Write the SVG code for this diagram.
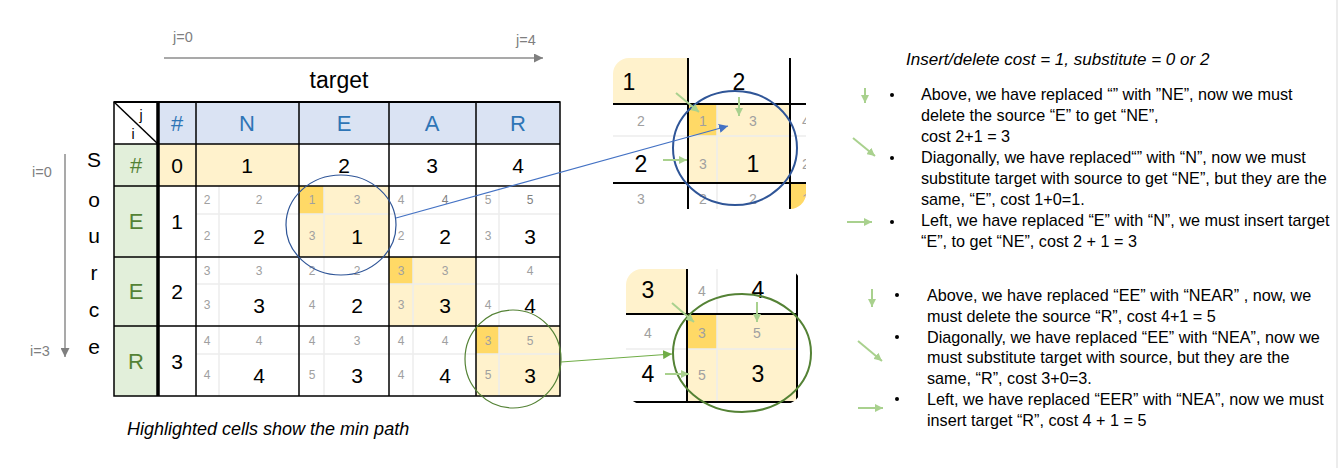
<svg xmlns="http://www.w3.org/2000/svg" width="1338" height="468" viewBox="0 0 1338 468">
<style>
text{font-family:"Liberation Sans",Arial,sans-serif;}
.c{text-anchor:middle;dominant-baseline:central;}
.big{font-size:21px;fill:#000;}
.sm{font-size:12px;fill:#a0a0a0;}
.hdr{font-size:22px;fill:#2e75b6;}
.grn{font-size:22px;fill:#548235;}
.gl{stroke:#000;stroke-width:1.5;fill:none;}
.sub{stroke:#ececec;stroke-width:1.5;}
.lab{font-size:14.5px;fill:#7f7f7f;}
.body{font-size:16.2px;fill:#000;}
.ib{font-size:23px;fill:#000;}
.is{font-size:14px;fill:#a0a0a0;}
.ga{stroke:#a9d18e;stroke-width:2;fill:none;marker-end:url(#ag);}
</style>
<defs>
<marker id="ag" markerUnits="userSpaceOnUse" markerWidth="9" markerHeight="8" refX="8" refY="4" orient="auto"><path d="M0,0 L8,4 L0,8 z" fill="#a9d18e"/></marker>
<marker id="agray" markerUnits="userSpaceOnUse" markerWidth="10" markerHeight="9" refX="9" refY="4.5" orient="auto"><path d="M0,0 L9,4.5 L0,9 z" fill="#7f7f7f"/></marker>
<marker id="ablue" markerUnits="userSpaceOnUse" markerWidth="10" markerHeight="9" refX="9" refY="4.5" orient="auto"><path d="M0,0 L9,4.5 L0,9 z" fill="#4472c4"/></marker>
<marker id="agreen2" markerUnits="userSpaceOnUse" markerWidth="10" markerHeight="9" refX="9" refY="4.5" orient="auto"><path d="M0,0 L9,4.5 L0,9 z" fill="#70ad47"/></marker>
<clipPath id="clipTop"><rect x="613" y="58" width="193" height="151" rx="16"/></clipPath>
<clipPath id="clipBot"><rect x="626" y="269" width="175" height="135" rx="16"/></clipPath>
</defs>
<rect width="1338" height="468" fill="#fff"/>
<line x1="1337" y1="0" x2="1337" y2="468" stroke="#d9d9d9" stroke-width="1"/>

<!-- axis labels -->
<g id="axis-target">
<text x="173" y="42" class="lab">j=0</text>
<text x="516" y="45" class="lab">j=4</text>
<line x1="164" y1="58" x2="543" y2="58" stroke="#8c8c8c" stroke-width="1.5" marker-end="url(#agray)"/>
<text x="339" y="88" font-size="23" text-anchor="middle">target</text>
</g>
<g id="axis-source">
<text x="32" y="177" class="lab">i=0</text>
<text x="30" y="356" class="lab">i=3</text>
<line x1="65" y1="154" x2="65" y2="357" stroke="#8c8c8c" stroke-width="1.5" marker-end="url(#agray)"/>
<g font-size="21" text-anchor="middle">
<text x="94" y="167">S</text>
<text x="94" y="207">o</text>
<text x="94" y="243">u</text>
<text x="94" y="280">r</text>
<text x="94" y="317">c</text>
<text x="94" y="354">e</text>
</g>
</g>

<!-- table -->
<g id="table">
<rect x="158" y="102" width="402" height="42" fill="#dae3f3"/>
<rect x="114" y="144" width="44" height="252" fill="#e2efda"/>
<rect x="158" y="144" width="141" height="42" fill="#fff2cc"/>
<rect x="299" y="186" width="90" height="71" fill="#fff2cc"/>
<rect x="299" y="186" width="25" height="28" fill="#ffd966"/>
<rect x="389" y="257" width="87" height="69" fill="#fff2cc"/>
<rect x="389" y="257" width="24" height="27" fill="#ffd966"/>
<rect x="476" y="326" width="84" height="70" fill="#fff2cc"/>
<rect x="476" y="326" width="23" height="28" fill="#ffd966"/>
<!-- sub grid -->
<g class="sub">
<line x1="196" y1="214" x2="560" y2="214"/>
<line x1="196" y1="284" x2="560" y2="284"/>
<line x1="196" y1="354" x2="560" y2="354"/>
<line x1="219" y1="186" x2="219" y2="396"/>
<line x1="324" y1="186" x2="324" y2="396"/>
<line x1="413" y1="186" x2="413" y2="396"/>
<line x1="499" y1="186" x2="499" y2="396"/>
</g>
<!-- main grid -->
<g class="gl">
<rect x="114" y="102" width="446" height="294"/>
<line x1="114" y1="144" x2="560" y2="144"/>
<line x1="114" y1="186" x2="560" y2="186"/>
<line x1="114" y1="257" x2="560" y2="257"/>
<line x1="114" y1="326" x2="560" y2="326"/>
<line x1="196" y1="102" x2="196" y2="396"/>
<line x1="299" y1="102" x2="299" y2="396"/>
<line x1="389" y1="102" x2="389" y2="396"/>
<line x1="476" y1="102" x2="476" y2="396"/>
<line x1="114" y1="102" x2="158" y2="144"/>
</g>
<line x1="114" y1="102" x2="560" y2="102" stroke="#000" stroke-width="2"/>
<line x1="158" y1="102" x2="158" y2="396" stroke="#000" stroke-width="3.5"/>
<text x="141" y="120" font-size="14" text-anchor="middle">j</text>
<text x="133" y="139" font-size="14" text-anchor="middle">i</text>
<g class="c hdr">
<text x="177" y="123">#</text><text x="247" y="123">N</text><text x="344" y="123">E</text><text x="432" y="123">A</text><text x="518" y="123">R</text>
</g>
<g class="c grn">
<text x="136" y="165">#</text><text x="136" y="221">E</text><text x="136" y="291">E</text><text x="136" y="361">R</text>
</g>
<g class="c big">
<text x="177" y="165">0</text><text x="247" y="165">1</text><text x="344" y="165">2</text><text x="432" y="165">3</text><text x="518" y="165">4</text>
<text x="177" y="221">1</text><text x="177" y="291">2</text><text x="177" y="361">3</text>
<text x="259" y="236">2</text><text x="357" y="236">1</text><text x="445" y="236">2</text><text x="530" y="236">3</text>
<text x="259" y="305">3</text><text x="357" y="305">2</text><text x="445" y="305">3</text><text x="530" y="305">4</text>
<text x="259" y="375">4</text><text x="357" y="375">3</text><text x="445" y="375">4</text><text x="530" y="375">3</text>
</g>
<g class="c sm">
<text x="207" y="200">2</text><text x="259" y="200">2</text><text x="207" y="236">2</text>
<text x="312" y="200">1</text><text x="357" y="200">3</text><text x="312" y="236">3</text>
<text x="401" y="200">4</text><text x="445" y="200" fill="#808080">4</text><text x="401" y="236">2</text>
<text x="488" y="200">5</text><text x="530" y="200" fill="#808080">5</text><text x="488" y="236">3</text>
<text x="207" y="271">3</text><text x="259" y="271">3</text><text x="207" y="305">3</text>
<text x="312" y="271">2</text><text x="357" y="271">2</text><text x="312" y="305">4</text>
<text x="401" y="271">3</text><text x="445" y="271">3</text><text x="401" y="305">3</text>
<text x="530" y="271">4</text><text x="488" y="305">4</text>
<text x="207" y="341">4</text><text x="259" y="341">4</text><text x="207" y="375">4</text>
<text x="312" y="341">4</text><text x="357" y="341">3</text><text x="312" y="375">5</text>
<text x="401" y="341">4</text><text x="445" y="341">4</text><text x="401" y="375">4</text>
<text x="488" y="341">3</text><text x="530" y="341">5</text><text x="488" y="375">5</text>
</g>
</g>
<g id="circle-blue"><ellipse cx="341" cy="225" rx="55" ry="50" fill="none" stroke="#2f5597" stroke-width="1.2"/></g>
<g id="circle-green"><ellipse cx="513" cy="359" rx="48" ry="49" fill="none" stroke="#548235" stroke-width="1.2"/></g>

<text x="127" y="435" font-size="18" font-style="italic">Highlighted cells show the min path</text>

<!-- inset top -->
<g id="inset-top">
<g clip-path="url(#clipTop)">
<rect x="613" y="58" width="75" height="46" fill="#fff2cc"/>
<rect x="688" y="104" width="102" height="79" fill="#fff2cc"/>
<rect x="688" y="104" width="29" height="32" fill="#ffd966"/>
<rect x="790" y="183" width="20" height="30" fill="#ffd966"/>
<line x1="613" y1="136" x2="806" y2="136" stroke="#ececec" stroke-width="1.5"/>
<line x1="717" y1="104" x2="717" y2="209" stroke="#ececec" stroke-width="1.5"/>
<line x1="613" y1="104" x2="806" y2="104" stroke="#000" stroke-width="2"/>
<line x1="613" y1="183" x2="806" y2="183" stroke="#000" stroke-width="2"/>
<line x1="688" y1="58" x2="688" y2="209" stroke="#000" stroke-width="2"/>
<line x1="790" y1="58" x2="790" y2="209" stroke="#000" stroke-width="2"/>
<g class="c ib"><text x="629" y="82">1</text><text x="739" y="82">2</text><text x="641" y="164">2</text><text x="753" y="164">1</text></g>
<g class="c is"><text x="641" y="121">2</text><text x="703" y="121">1</text><text x="753" y="121">3</text><text x="806" y="121">4</text><text x="703" y="164">3</text><text x="806" y="164">2</text><text x="641" y="199">3</text><text x="703" y="199">2</text><text x="753" y="199">2</text><text x="806" y="199">1</text></g>
</g>
<ellipse cx="735" cy="148" rx="62" ry="57" fill="none" stroke="#2f5597" stroke-width="2"/>
<line x1="676" y1="93" x2="699" y2="112" class="ga"/>
<line x1="739" y1="97" x2="739" y2="116" class="ga"/>
<line x1="663" y1="160" x2="687" y2="160" class="ga"/>
</g>

<!-- inset bottom -->
<g id="inset-bottom">
<g clip-path="url(#clipBot)">
<rect x="626" y="269" width="61" height="45" fill="#fff2cc"/>
<rect x="687" y="314" width="110" height="88" fill="#fff2cc"/>
<rect x="687" y="314" width="30" height="35" fill="#ffd966"/>
<line x1="626" y1="349" x2="797" y2="349" stroke="#ececec" stroke-width="1.5"/>
<line x1="717" y1="269" x2="717" y2="402" stroke="#ececec" stroke-width="1.5"/>
<line x1="626" y1="314" x2="797" y2="314" stroke="#000" stroke-width="2"/>
<line x1="626" y1="402" x2="797" y2="402" stroke="#000" stroke-width="2"/>
<line x1="687" y1="269" x2="687" y2="403" stroke="#000" stroke-width="2"/>
<line x1="797" y1="269" x2="797" y2="403" stroke="#000" stroke-width="2"/>
<g class="c ib"><text x="648" y="290">3</text><text x="758" y="290">4</text><text x="648" y="374">4</text><text x="758" y="374">3</text></g>
<g class="c is"><text x="702" y="291">4</text><text x="648" y="333">4</text><text x="702" y="333">3</text><text x="757" y="333">5</text><text x="702" y="375">5</text></g>
</g>
<ellipse cx="742" cy="353" rx="69" ry="59" fill="none" stroke="#548235" stroke-width="2"/>
<line x1="672" y1="303" x2="694" y2="322" class="ga"/>
<line x1="757" y1="302" x2="757" y2="322" class="ga"/>
<line x1="665" y1="374" x2="689" y2="374" class="ga"/>
</g>

<!-- connectors -->
<g id="connectors">
<line x1="396" y1="218" x2="728" y2="126" stroke="#4472c4" stroke-width="1.2" marker-end="url(#ablue)"/>
<line x1="561" y1="362" x2="672" y2="354" stroke="#70ad47" stroke-width="1.2" marker-end="url(#agreen2)"/>
</g>

<!-- right text -->
<g id="notes-top">
<text x="906" y="65" font-size="17" font-style="italic">Insert/delete cost = 1, substitute = 0 or 2</text>
<line x1="865" y1="88" x2="865" y2="103" class="ga"/>
<line x1="853" y1="138" x2="875" y2="156" class="ga"/>
<line x1="847" y1="222" x2="872" y2="222" class="ga"/>
<circle cx="892" cy="95" r="2" fill="#000"/>
<circle cx="892" cy="158" r="2" fill="#000"/>
<circle cx="892" cy="222" r="2" fill="#000"/>
<g class="body">
<text x="921" y="100">Above, we have replaced “” with ”NE”, now we must</text>
<text x="921" y="121">delete the source “E” to get “NE”,</text>
<text x="921" y="142">cost 2+1 = 3</text>
<text x="921" y="163">Diagonally, we have replaced“” with “N”, now we must</text>
<text x="921" y="184">substitute target with source to get “NE”, but they are the</text>
<text x="921" y="205">same, “E”, cost 1+0=1.</text>
<text x="921" y="226">Left, we have replaced “E” with “N”, we must insert target</text>
<text x="921" y="247">“E”, to get “NE”, cost 2 + 1 = 3</text>
</g>
</g>
<g id="notes-bottom">
<line x1="872" y1="289" x2="872" y2="307" class="ga"/>
<line x1="858" y1="341" x2="882" y2="361" class="ga"/>
<line x1="858" y1="408" x2="883" y2="408" class="ga"/>
<circle cx="897" cy="295" r="2" fill="#000"/>
<circle cx="897" cy="337" r="2" fill="#000"/>
<circle cx="897" cy="399" r="2" fill="#000"/>
<g class="body">
<text x="927" y="301">Above, we have replaced “EE” with “NEAR” , now, we</text>
<text x="927" y="322">must delete the source “R”, cost 4+1 = 5</text>
<text x="927" y="343">Diagonally, we have replaced “EE” with “NEA”, now we</text>
<text x="927" y="363">must substitute target with source, but they are the</text>
<text x="927" y="384">same, “R”, cost 3+0=3.</text>
<text x="927" y="405">Left, we have replaced “EER” with “NEA”, now we must</text>
<text x="927" y="426">insert target “R”, cost 4 + 1 = 5</text>
</g>
</g>
</svg>
